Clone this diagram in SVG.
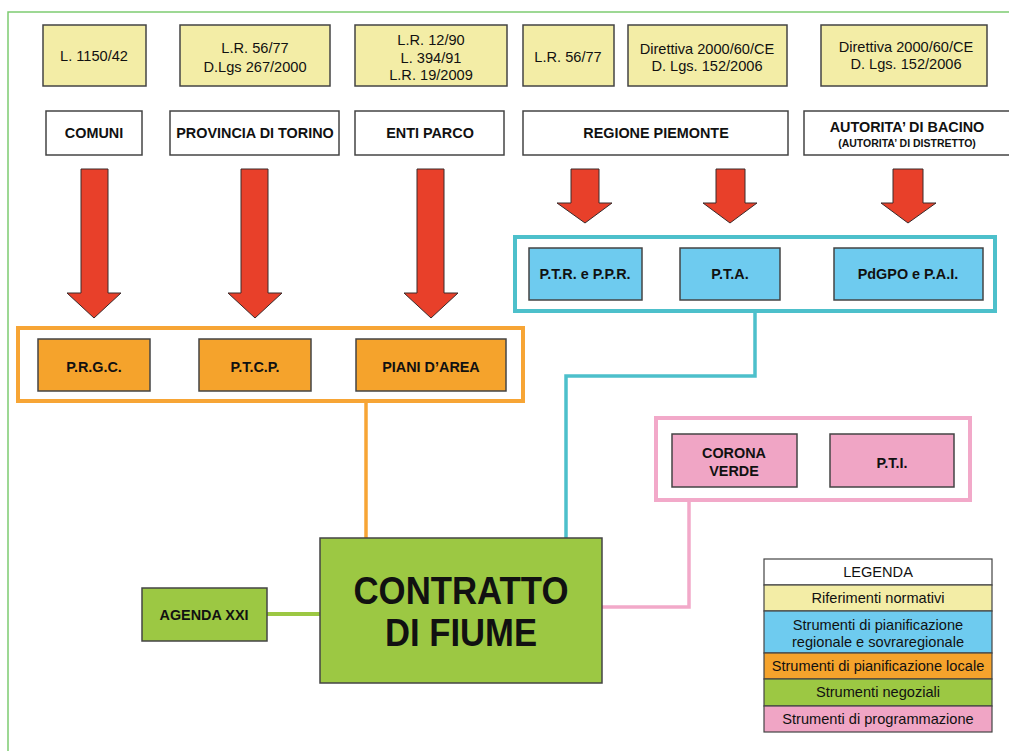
<svg xmlns="http://www.w3.org/2000/svg" width="1009" height="751" viewBox="0 0 1009 751">
<style>
text{font-family:"Liberation Sans",Arial,sans-serif;fill:#111;text-anchor:middle}
.n{font-size:14.6px}
.b{font-size:14.4px;font-weight:bold}
.bs{font-size:10.5px;font-weight:bold}
.box{stroke:#444;stroke-width:1.5}
.y{fill:#f3eda6}
.w{fill:#fff}
.bl{fill:#6ecbef}
.o{fill:#f5a32c}
.g{fill:#9cc843}
.p{fill:#f0a5c5}
.arrow{fill:#e8402a;stroke:#3a2a2a;stroke-width:1}
.cont{fill:#fff;stroke-width:4}
.lg{stroke:#444;stroke-width:1.2}
</style>
<rect x="0" y="0" width="1009" height="751" fill="#fff"/>
<rect id="frame" x="8" y="12" width="1010" height="750" fill="none" stroke="#7dcb72" stroke-width="1.5"/>

<g id="containers">
<rect x="18" y="328" width="505" height="73" class="cont" stroke="#f7a535"/>
<rect x="515" y="237" width="480" height="74" class="cont" stroke="#4dc0cb"/>
<rect x="656" y="418" width="314" height="82" class="cont" stroke="#f2a9c9"/>
</g>

<g id="connectors" fill="none">
<path d="M366 403 V538" stroke="#f7a535" stroke-width="3.5"/>
<path d="M755 313 V376 H566 V538" stroke="#4dc0cb" stroke-width="3.5"/>
<path d="M689 502 V607 H602" stroke="#f2a9c9" stroke-width="3.5"/>
<path d="M267 614 H320" stroke="#9cc843" stroke-width="4"/>
</g>

<g id="arrows">
<path class="arrow" d="M81 169 H108 V293 H121 L94 318 L67 293 H81 Z"/>
<path class="arrow" d="M241 169 H268 V293 H282 L255 318 L228 293 H241 Z"/>
<path class="arrow" d="M417 169 H444 V293 H458 L431 318 L404 293 H417 Z"/>
<path class="arrow" d="M571 169 H599 V203 H612 L585 223 L557 203 H571 Z"/>
<path class="arrow" d="M716 169 H745 V203 H757 L730 223 L703 203 H716 Z"/>
<path class="arrow" d="M893 169 H923 V203 H936 L908 223 L881 203 H893 Z"/>
</g>

<g id="ref1"><rect class="box y" x="43" y="25" width="103" height="61"/><text class="n" x="94" y="61">L. 1150/42</text></g>
<g id="ref2"><rect class="box y" x="180" y="25" width="150" height="61"/><text class="n" x="255" y="53">L.R. 56/77</text><text class="n" x="255" y="72">D.Lgs 267/2000</text></g>
<g id="ref3"><rect class="box y" x="355" y="25" width="152" height="61"/><text class="n" x="431" y="45">L.R. 12/90</text><text class="n" x="431" y="63">L. 394/91</text><text class="n" x="431" y="80">L.R. 19/2009</text></g>
<g id="ref4"><rect class="box y" x="523" y="25" width="91" height="61"/><text class="n" x="568" y="62">L.R. 56/77</text></g>
<g id="ref5"><rect class="box y" x="628" y="25" width="159" height="61"/><text class="n" x="707" y="54">Direttiva 2000/60/CE</text><text class="n" x="707" y="71">D. Lgs. 152/2006</text></g>
<g id="ref6"><rect class="box y" x="821" y="25" width="166" height="61"/><text class="n" x="906" y="52">Direttiva 2000/60/CE</text><text class="n" x="906" y="69">D. Lgs. 152/2006</text></g>

<g id="comuni"><rect class="box w" x="46" y="111" width="96" height="44"/><text class="b" x="94" y="138">COMUNI</text></g>
<g id="provincia"><rect class="box w" x="170" y="111" width="169" height="44"/><text class="b" x="255" y="138">PROVINCIA DI TORINO</text></g>
<g id="enti"><rect class="box w" x="355" y="111" width="149" height="44"/><text class="b" x="430" y="138">ENTI PARCO</text></g>
<g id="regione"><rect class="box w" x="523" y="111" width="265" height="44"/><text class="b" x="656" y="138">REGIONE PIEMONTE</text></g>
<g id="autorita"><rect class="box w" x="804" y="111" width="212" height="44"/><text class="b" x="907" y="132">AUTORITA’ DI BACINO</text><text class="bs" x="907" y="147">(AUTORITA’ DI DISTRETTO)</text></g>

<g id="prgc"><rect class="box o" x="38" y="339" width="112" height="52"/><text class="b" x="94" y="372">P.R.G.C.</text></g>
<g id="ptcp"><rect class="box o" x="199" y="339" width="112" height="52"/><text class="b" x="255" y="372">P.T.C.P.</text></g>
<g id="piani"><rect class="box o" x="356" y="339" width="150" height="52"/><text class="b" x="431" y="372">PIANI D’AREA</text></g>

<g id="ptr"><rect class="box bl" x="529" y="248" width="113" height="52"/><text class="b" x="585" y="279">P.T.R. e P.P.R.</text></g>
<g id="pta"><rect class="box bl" x="680" y="248" width="100" height="52"/><text class="b" x="730" y="279">P.T.A.</text></g>
<g id="pdgpo"><rect class="box bl" x="834" y="248" width="149" height="52"/><text class="b" x="908" y="279">PdGPO e P.A.I.</text></g>

<g id="corona"><rect class="box p" x="672" y="434" width="125" height="53"/><text class="b" x="734" y="458">CORONA</text><text class="b" x="734" y="476">VERDE</text></g>
<g id="pti"><rect class="box p" x="830" y="434" width="124" height="53"/><text class="b" x="892" y="468">P.T.I.</text></g>

<g id="agenda"><rect class="box g" x="142" y="588" width="125" height="53"/><text class="b" x="204" y="620" textLength="89" lengthAdjust="spacingAndGlyphs">AGENDA XXI</text></g>
<g id="contratto"><rect class="box g" x="320" y="538" width="282" height="145"/>
<text x="461" y="604" font-size="38" font-weight="bold" textLength="215" lengthAdjust="spacingAndGlyphs">CONTRATTO</text>
<text x="461" y="646" font-size="38" font-weight="bold" textLength="152" lengthAdjust="spacingAndGlyphs">DI FIUME</text></g>

<g id="legend">
<rect class="lg" x="764" y="559" width="228" height="26" fill="#fff"/>
<rect class="lg" x="764" y="585" width="228" height="26" fill="#f3eda6"/>
<rect class="lg" x="764" y="611" width="228" height="42" fill="#6ecbef"/>
<rect class="lg" x="764" y="653" width="228" height="26" fill="#f5a32c"/>
<rect class="lg" x="764" y="679" width="228" height="27" fill="#9cc843"/>
<rect class="lg" x="764" y="706" width="228" height="26" fill="#f0a5c5"/>
<text class="n" x="878" y="577">LEGENDA</text>
<text class="n" x="878" y="603">Riferimenti normativi</text>
<text class="n" x="878" y="630">Strumenti di pianificazione</text>
<text class="n" x="878" y="647">regionale e sovraregionale</text>
<text class="n" x="878" y="671">Strumenti di pianificazione locale</text>
<text class="n" x="878" y="697">Strumenti negoziali</text>
<text class="n" x="878" y="724">Strumenti di programmazione</text>
</g>
</svg>
